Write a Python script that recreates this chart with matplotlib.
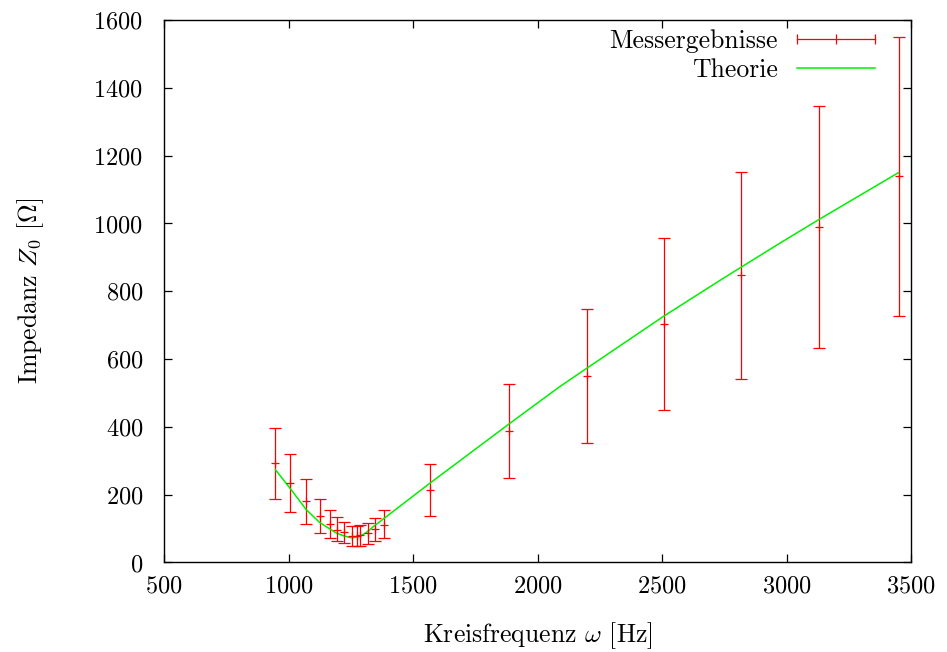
import numpy as np
import matplotlib
matplotlib.use("Agg")
import matplotlib.pyplot as plt
from matplotlib.lines import Line2D

plt.rcParams['font.family'] = 'serif'
plt.rcParams['font.serif'] = ['cmr10']
plt.rcParams['mathtext.fontset'] = 'cm'
plt.rcParams['axes.unicode_minus'] = False
plt.rcParams['axes.formatter.use_mathtext'] = True

# Messergebnisse
omega = np.array([947, 1006, 1070, 1127, 1165, 1195, 1222, 1256, 1277, 1289,
                  1318, 1349, 1385, 1569, 1884, 2197, 2506, 2819, 3131, 3450])
z_mess = np.array([293, 235, 180, 136, 113, 97, 89, 78, 78, 80,
                   88, 99, 112, 215, 388, 550, 703, 847, 990, 1139])
z_low = np.array([186, 150, 114, 86, 72, 64, 56, 50, 50, 50,
                  54, 62, 72, 137, 248, 352, 450, 540, 632, 727])
z_high = np.array([398, 321, 245, 186, 154, 133, 119, 109, 109, 111,
                   117, 132, 154, 291, 527, 747, 956, 1151, 1346, 1549])

# Theorie curve
omega_th = np.array([947, 1005, 1071, 1125, 1192, 1220, 1245, 1260, 1285, 1312,
                     1341, 1568, 1890, 2086, 2186, 2506,
                     2739, 2967, 3131, 3450])
z_th = np.array([274, 220, 156, 118, 87, 79, 74, 73, 77, 88,
                 106, 234, 411, 517, 567, 726,
                 835, 939, 1012, 1150])

fig = plt.figure(figsize=(9.47, 6.52), dpi=100)
ax = fig.add_axes([0.1732, 0.1373, 0.7888, 0.832])

ax.errorbar(omega, z_mess, yerr=[z_mess - z_low, z_high - z_mess],
            fmt='+', color='#ff0000', ecolor='#ff0000', elinewidth=0.9,
            capsize=4, capthick=0.9, markersize=6, markeredgewidth=0.9)
ax.plot(omega_th, z_th, color='#00f000', lw=1.1)

ax.set_xlim(500, 3500)
ax.set_ylim(0, 1600)
ax.set_xticks(np.arange(500, 3501, 500))
ax.set_yticks(np.arange(0, 1601, 200))
ax.tick_params(direction='in', top=True, right=True, length=6, width=0.9,
               labelsize=17.5)
ax.tick_params(axis='x', pad=9)
ax.tick_params(axis='y', pad=15)
for s in ax.spines.values():
    s.set_linewidth(1.0)

ax.set_xlabel(r'Kreisfrequenz $\omega$ [Hz]', fontsize=18.5)
ax.set_ylabel(r'Impedanz $Z_0$ [$\Omega$]', fontsize=18.5)
ax.xaxis.set_label_coords(0.5, -0.107)
ax.yaxis.set_label_coords(-0.158, 0.5)

handles = [Line2D([], [], color='#ff0000', lw=0.9, marker='|', markersize=7,
                  markeredgewidth=0.9),
           Line2D([], [], color='#00f000', lw=1.1)]
ax.legend(handles, ['Messergebnisse', 'Theorie'], loc='upper right',
          bbox_to_anchor=(0.9625, 0.983), frameon=False, markerfirst=False,
          numpoints=3, fontsize=18.5, handlelength=3.63, handletextpad=0.48,
          labelspacing=0.22, borderpad=0.0, borderaxespad=0.0)

fig.savefig('out.png', dpi=100)
